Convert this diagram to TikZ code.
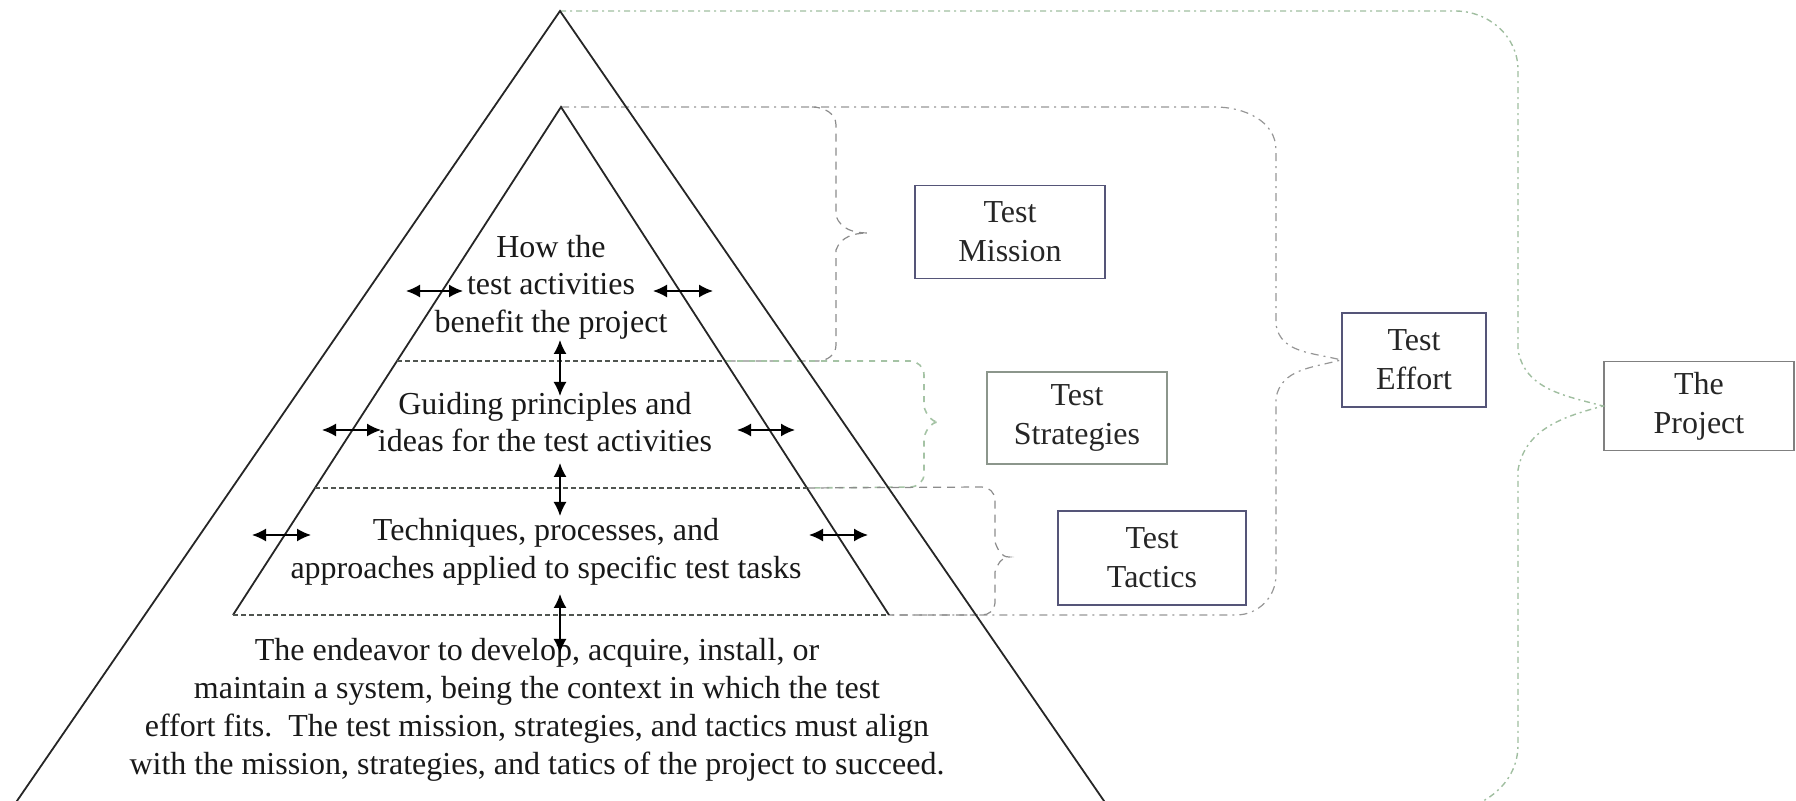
\documentclass[tikz,border=0pt]{standalone}
\usepackage{fontspec}
\setmainfont{Liberation Serif}
\usetikzlibrary{arrows.meta,calc}
\definecolor{projc}{RGB}{160,190,160}
\definecolor{effc}{RGB}{150,150,150}
\definecolor{misc}{RGB}{140,140,140}
\definecolor{strc}{RGB}{165,195,165}
\definecolor{sepc}{RGB}{80,85,80}
\definecolor{boxblue}{RGB}{85,85,120}
\definecolor{boxgray}{RGB}{140,150,140}
\begin{document}
\begin{tikzpicture}[x=0.5pt,y=-0.5pt,
  tri/.style={line width=0.9pt,black!85},
  sepline/.style={line width=1.2pt,sepc,dash pattern=on 2.5pt off 1.5pt},
  projline/.style={line width=0.7pt,projc,dash pattern=on 3pt off 2pt on 1pt off 2pt},
  effline/.style={line width=0.6pt,effc,dash pattern=on 4pt off 2.5pt on 1pt off 2.5pt},
  misline/.style={line width=0.6pt,misc,dash pattern=on 4pt off 3pt},
  strline/.style={line width=0.8pt,strc,dash pattern=on 3pt off 3pt},
  tacline/.style={line width=0.6pt,misc,dash pattern=on 4pt off 3pt},
  dbl/.style={line width=0.8pt,{Latex[length=7pt,width=6.5pt]}-{Latex[length=7pt,width=6.5pt]}},
  ptext/.style={font=\fontsize{16}{18.8}\selectfont,align=center,inner sep=0pt,text=black!90},
  tbox/.style={draw,line width=0.9pt,font=\fontsize{16}{19.5}\selectfont,align=center,inner sep=0pt,text=black!85}
]
\useasboundingbox (0,0) rectangle (1796,801);
\begin{scope}
\clip (0,0) rectangle (1796,801);
% coordinates
\coordinate (oapex) at (560,11);
\coordinate (obl) at (-3,830);
\coordinate (obr) at (1124,830);
\coordinate (iapex) at (561,107);
\coordinate (ibl) at (233,615);
\coordinate (ibr) at (889,615);
\coordinate (sepAl) at ($(iapex)!0.5!(ibl)$);
\coordinate (sepAr) at ($(iapex)!0.5!(ibr)$);
\coordinate (sepBl) at ($(iapex)!0.75!(ibl)$);
\coordinate (sepBr) at ($(iapex)!0.75!(ibr)$);

% boxes
\node[tbox,draw=boxblue,minimum width=95pt,minimum height=46.5pt] (mission) at (1010,232) {Test\\Mission};
\node[tbox,draw=boxgray,minimum width=90pt,minimum height=46pt] (strat) at (1077,418) {Test\\Strategies};
\node[tbox,draw=boxblue,minimum width=94pt,minimum height=47pt] (tactics) at (1152,558) {Test\\Tactics};
\node[tbox,draw=boxblue,minimum width=72pt,minimum height=47pt] (effort) at (1414,360) {Test\\Effort};
\node[tbox,draw=gray,minimum width=95pt,minimum height=44.5pt] (proj) at (1699,406) {The\\Project};

% braces
\coordinate (mtip) at (868,233);
\coordinate (stip) at (939,422);
\coordinate (ttip) at (1009,557);
\draw[projline] (oapex) -- (1455,11) to[out=0,in=90] (1518,70) -- (1518,350)
   to[out=-80,in=165] (proj.west) to[out=195,in=80] (1518,470) -- (1518,745) to[out=-90,in=0] (1440,812);
\draw[effline] (iapex) -- (1215,107) to[out=0,in=90] (1276,150) -- (1276,325)
   to[out=-80,in=165] (effort.west) to[out=195,in=80] (1276,398) -- (1276,575) to[out=-90,in=0] (1236,615) -- (ibr);
\draw[misline] (812,107) to[out=0,in=90] (836,125) -- (836,216)
   to[out=-70,in=180] (mtip) to[out=180,in=70] (836,250) -- (836,345) to[out=-90,in=0] (818,361) -- (sepAr);
\draw[strline] (sepAr) -- (910,361) to[out=0,in=90] (924,375) -- (924,407)
   to[out=-70,in=180] (stip) to[out=180,in=70] (924,437) -- (924,474) to[out=-90,in=0] (910,487) -- (sepBr);
\draw[tacline] (sepBr) -- (982,487) to[out=0,in=90] (995,500) -- (995,542)
   to[out=-70,in=180] (ttip) to[out=180,in=70] (995,572) -- (995,603) to[out=-90,in=0] (982,615) -- (ibr);

% triangles
\draw[tri] (obl) -- (oapex) -- (obr);
\draw[tri] (ibl) -- (iapex) -- (ibr);
\draw[sepline] (sepAl) -- (sepAr);
\draw[sepline] (sepBl) -- (sepBr);
\draw[sepline] (ibl) -- (ibr);

% texts
\node[ptext] (t1) at (551,287) {How the\\test activities\\benefit the project};
\node[ptext] (t2) at (545,422) {Guiding principles and\\ideas for the test activities};
\node[ptext] (t3) at (546,552) {Techniques, processes, and\\approaches applied to specific test tasks};
\node[ptext,font=\fontsize{16}{19}\selectfont] (t4) at (537,710) {The endeavor to develop, acquire, install, or\\maintain a system, being the context in which the test\\effort fits.\ \ The test mission, strategies, and tactics must align\\with the mission, strategies, and tatics of the project to succeed.};

% arrows
\coordinate (v1a) at (560,340); \coordinate (v1b) at (560,396);
\coordinate (v2a) at (560,463); \coordinate (v2b) at (560,516);
\coordinate (v3a) at (560,594); \coordinate (v3b) at (560,653);
\draw[dbl] (v1a) -- (v1b);
\draw[dbl] (v2a) -- (v2b);
\draw[dbl] (v3a) -- (v3b);
\coordinate (h1a) at (406,291); \coordinate (h1b) at (463,291);
\coordinate (h2a) at (653,291); \coordinate (h2b) at (713,291);
\coordinate (h3a) at (322,430); \coordinate (h3b) at (381,430);
\coordinate (h4a) at (737,430); \coordinate (h4b) at (795,430);
\coordinate (h5a) at (252,535); \coordinate (h5b) at (311,535);
\coordinate (h6a) at (809,535); \coordinate (h6b) at (868,535);
\draw[dbl] (h1a) -- (h1b);
\draw[dbl] (h2a) -- (h2b);
\draw[dbl] (h3a) -- (h3b);
\draw[dbl] (h4a) -- (h4b);
\draw[dbl] (h5a) -- (h5b);
\draw[dbl] (h6a) -- (h6b);
\end{scope}
\end{tikzpicture}
\end{document}
